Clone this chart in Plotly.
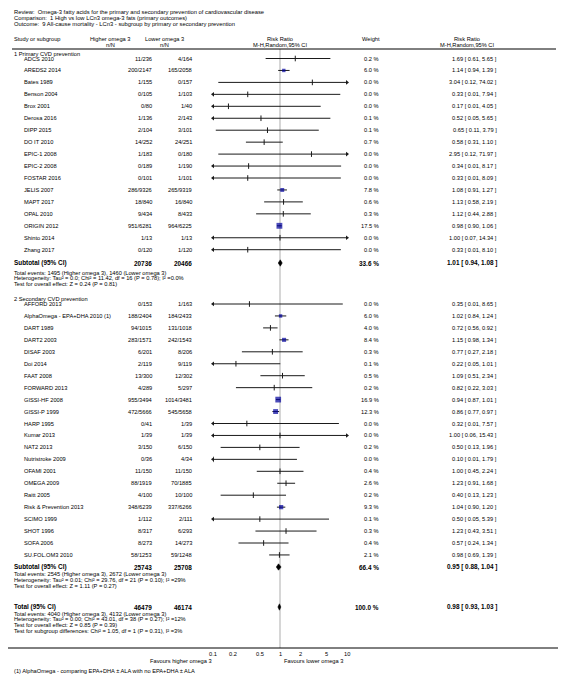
import math
import plotly.graph_objects as go

W, H = 566, 679
OFF = 8  # the page body margin shifts the figure by 8 px; positions below are page pixels
FONT = "Liberation Sans, Arial, sans-serif"

# ---------------- data ----------------
header_lines = [
    "Review:  Omega-3 fatty acids for the primary and secondary prevention of cardiovascular disease",
    "Comparison:  1 High vs low LCn3 omega-3 fats (primary outcomes)",
    "Outcome:  9 All-cause mortality - LCn3 - subgroup by primary or secondary prevention",
]

p_names = ["ADCS 2010", "AREDS2 2014", "Bates 1989", "Benson 2004", "Brox 2001", "Derosa 2016",
           "DIPP 2015", "DO IT 2010", "EPIC-1 2008", "EPIC-2 2008", "FOSTAR 2016", "JELIS 2007",
           "MAPT 2017", "OPAL 2010", "ORIGIN 2012", "Shinto 2014", "Zhang 2017"]
p_hi_ev = [11, 200, 1, 0, 0, 1, 2, 14, 1, 0, 0, 286, 18, 9, 951, 1, 0]
p_hi_n = [236, 2147, 155, 105, 80, 136, 104, 252, 183, 189, 101, 9326, 840, 434, 6281, 13, 120]
p_lo_ev = [4, 165, 0, 1, 1, 2, 3, 24, 0, 1, 1, 265, 16, 8, 964, 1, 1]
p_lo_n = [164, 2058, 157, 103, 40, 143, 101, 251, 180, 190, 101, 9319, 840, 433, 6225, 13, 120]
p_weight = [0.2, 6.0, 0.0, 0.0, 0.0, 0.1, 0.1, 0.7, 0.0, 0.0, 0.0, 7.8, 0.6, 0.3, 17.5, 0.0, 0.0]
p_rr = [1.69, 1.14, 3.04, 0.33, 0.17, 0.52, 0.65, 0.58, 2.95, 0.34, 0.33, 1.08, 1.13, 1.12, 0.98, 1.00, 0.33]
p_lo = [0.61, 0.94, 0.12, 0.01, 0.01, 0.05, 0.11, 0.31, 0.12, 0.01, 0.01, 0.91, 0.58, 0.44, 0.90, 0.07, 0.01]
p_hi = [5.65, 1.39, 74.02, 7.94, 4.05, 5.65, 3.79, 1.10, 71.97, 8.17, 8.09, 1.27, 2.19, 2.88, 1.06, 14.34, 8.10]
p_sub = dict(n_hi=20736, n_lo=20466, weight=33.6, rr=1.01, lo=0.94, hi=1.08)
p_notes = ["Total events: 1495 (Higher omega 3), 1460 (Lower omega 3)",
           "Heterogeneity: Tau² = 0.0; Chi² = 11.42, df = 16 (P = 0.78); I² =0.0%",
           "Test for overall effect: Z = 0.24 (P = 0.81)"]

s_names = ["AFFORD 2013", "AlphaOmega - EPA+DHA 2010 (1)", "DART 1989", "DART2 2003", "DISAF 2003",
           "Doi 2014", "FAAT 2008", "FORWARD 2013", "GISSI-HF 2008", "GISSI-P 1999", "HARP 1995",
           "Kumar 2013", "NAT2 2013", "Nutristroke 2009", "OFAMI 2001", "OMEGA 2009", "Raitt 2005",
           "Risk & Prevention 2013", "SCIMO 1999", "SHOT 1996", "SOFA 2006", "SU.FOL.OM3 2010"]
s_hi_ev = [0, 188, 94, 283, 6, 2, 13, 4, 955, 472, 0, 1, 3, 0, 11, 88, 4, 348, 1, 8, 8, 58]
s_hi_n = [153, 2404, 1015, 1571, 201, 119, 300, 289, 3494, 5666, 41, 39, 150, 36, 150, 1919, 100, 6239, 112, 317, 273, 1253]
s_lo_ev = [1, 184, 131, 242, 8, 9, 12, 5, 1014, 545, 1, 1, 6, 4, 11, 70, 10, 337, 2, 6, 14, 59]
s_lo_n = [163, 2433, 1018, 1543, 206, 119, 302, 297, 3481, 5658, 39, 39, 150, 34, 150, 1885, 100, 6266, 111, 293, 273, 1248]
s_weight = [0.0, 6.0, 4.0, 8.4, 0.3, 0.1, 0.5, 0.2, 16.9, 12.3, 0.0, 0.0, 0.2, 0.0, 0.4, 2.6, 0.2, 9.3, 0.1, 0.3, 0.4, 2.1]
s_rr = [0.35, 1.02, 0.72, 1.15, 0.77, 0.22, 1.09, 0.82, 0.94, 0.86, 0.32, 1.00, 0.50, 0.10, 1.00, 1.23, 0.40, 1.04, 0.50, 1.23, 0.57, 0.98]
s_lo = [0.01, 0.84, 0.56, 0.98, 0.27, 0.05, 0.51, 0.22, 0.87, 0.77, 0.01, 0.06, 0.13, 0.01, 0.45, 0.91, 0.13, 0.90, 0.05, 0.43, 0.24, 0.69]
s_hi = [8.65, 1.24, 0.92, 1.34, 2.18, 1.01, 2.34, 3.03, 1.01, 0.97, 7.57, 15.43, 1.96, 1.79, 2.24, 1.68, 1.23, 1.20, 5.39, 3.51, 1.34, 1.39]
s_sub = dict(n_hi=25743, n_lo=25708, weight=66.4, rr=0.95, lo=0.88, hi=1.04)
s_notes = ["Total events: 2545 (Higher omega 3), 2672 (Lower omega 3)",
           "Heterogeneity: Tau² = 0.01; Chi² = 29.76, df = 21 (P = 0.10); I² =29%",
           "Test for overall effect: Z = 1.11 (P = 0.27)"]

total = dict(n_hi=46479, n_lo=46174, weight=100.0, rr=0.98, lo=0.93, hi=1.03)
t_notes = ["Total events: 4040 (Higher omega 3), 4132 (Lower omega 3)",
           "Heterogeneity: Tau² = 0.00; Chi² = 43.01, df = 38 (P = 0.27); I² =12%",
           "Test for overall effect: Z = 0.85 (P = 0.39)",
           "Test for subgroup differences: Chi² = 1.05, df = 1 (P = 0.31), I² =3%"]

tick_vals = [0.1, 0.2, 0.5, 1, 2, 5, 10]
tick_text = ["0.1", "0.2", "0.5", "1", "2", "5", "10"]
footnote = "(1) AlphaOmega - comparing EPA+DHA ± ALA with no EPA+DHA ± ALA"

# ---------------- layout constants (page pixels) ----------------
XMIN, XMAX = 0.1, 10
PLOT_L, PLOT_R = 213, 347
PITCH = 11.95
X_NAME, X_SUB = 23, 13
X_HI, X_LO, X_W, X_RR = 153, 193, 380, 498
SZ, SZB = 5.7, 6.4
SQ_BLUE = "#00009c"
LINE_C = "#1a1a1a"

fig = go.Figure()


def px(x):
    return (x - OFF) / W


def txt(x, y, s, anchor="left", size=SZ, bold=False, xref="paper"):
    """x in page pixels (paper) or a data value on the log x axis (xref='x')."""
    if bold:
        s = f"<b>{s}</b>"
    xv = px(x) if xref == "paper" else math.log10(x)
    fig.add_annotation(x=xv, y=y, xref=xref, yref="y",
                       text=s, showarrow=False, xanchor=anchor, yanchor="middle",
                       font=dict(size=size, family=FONT, color="black"), borderpad=0)


def fmt_rr(r, lo, hi):
    return f"{r:.2f} [ {lo:.2f}, {hi:.2f} ]"


# header
for i, s in enumerate(header_lines):
    txt(13, 12 + 5.8 * i, s, size=5.8)
txt(13, 39, "Study or subgroup")
txt(110, 39, "Higher omega 3", anchor="center")
txt(110, 45, "n/N", anchor="center")
txt(165, 39, "Lower omega 3", anchor="center")
txt(165, 45, "n/N", anchor="center")
txt(280, 39, "Risk Ratio", anchor="center")
txt(280, 45, "M-H,Random,95% CI", anchor="center")
txt(371, 39, "Weight", anchor="center")
txt(467, 39, "Risk Ratio", anchor="center")
txt(467, 45, "M-H,Random,95% CI", anchor="center")
fig.add_shape(type="line", xref="paper", yref="y", x0=px(12), x1=px(556), y0=49, y1=49,
              line=dict(color="black", width=1))

ci_x, ci_y = [], []
tick_x, tick_y = [], []
sq_x, sq_y, sq_s = [], [], []
arl_x, arl_y, arr_x, arr_y = [], [], [], []
dia_traces = []


def summary(y, label, d):
    txt(X_SUB, y, label, size=SZB, bold=True)
    txt(X_HI, y, f"{d['n_hi']}", anchor="right", size=SZB, bold=True)
    txt(X_LO, y, f"{d['n_lo']}", anchor="right", size=SZB, bold=True)
    txt(X_W, y, f"{d['weight']:.1f} %", anchor="right", size=SZB, bold=True)
    txt(X_RR, y, fmt_rr(d['rr'], d['lo'], d['hi']), anchor="right", size=SZB, bold=True)
    h = 3.2
    dia_traces.append(go.Scatter(x=[d['lo'], d['rr'], d['hi'], d['rr'], d['lo']],
                                 y=[y, y - h, y, y + h, y], mode="lines", fill="toself",
                                 fillcolor="black", line=dict(color="black", width=0.5),
                                 hoverinfo="skip", showlegend=False))


def study_block(title, y_title, y0, names, hev, hn, lev, ln, wts, rr, lo, hi, sub, y_sub, y_notes, notes):
    txt(X_SUB, y_title, title)
    for i, nm in enumerate(names):
        y = y0 + PITCH * i
        txt(X_NAME, y, nm)
        txt(X_HI, y, f"{hev[i]}/{hn[i]}", anchor="right")
        txt(X_LO, y, f"{lev[i]}/{ln[i]}", anchor="right")
        txt(X_W, y, f"{wts[i]:.1f} %", anchor="right")
        txt(X_RR, y, fmt_rr(rr[i], lo[i], hi[i]), anchor="right")
        ci_x.extend([lo[i], hi[i], None])
        ci_y.extend([y, y, None])
        if lo[i] < XMIN:
            arl_x.append(XMIN); arl_y.append(y)
        if hi[i] > XMAX:
            arr_x.append(XMAX); arr_y.append(y)
        if wts[i] >= 5:
            sq_x.append(rr[i]); sq_y.append(y); sq_s.append(1.4 * math.sqrt(wts[i]))
        else:
            tick_x.append(rr[i]); tick_y.append(y)
    summary(y_sub, "Subtotal (95% CI)", sub)
    for j, s in enumerate(notes):
        txt(X_SUB, y_notes + 5.8 * j, s)


study_block("1 Primary CVD prevention", 53.5, 58.5, p_names, p_hi_ev, p_hi_n, p_lo_ev, p_lo_n,
            p_weight, p_rr, p_lo, p_hi, p_sub, 263, 272.5, p_notes)
study_block("2 Secondary CVD prevention", 298.5, 304, s_names, s_hi_ev, s_hi_n, s_lo_ev, s_lo_n,
            s_weight, s_rr, s_lo, s_hi, s_sub, 567, 574, s_notes)
summary(607, "Total (95% CI)", total)
for j, s in enumerate(t_notes):
    txt(X_SUB, 613.5 + 5.8 * j, s)

# reference line at 1 and bottom axis line
fig.add_shape(type="line", xref="x", yref="y", x0=1, x1=1, y0=49, y1=648,
              line=dict(color="#c8c8c8", width=1.5), layer="below")
fig.add_shape(type="line", xref="paper", yref="y", x0=0, x1=1, y0=648, y1=648,
              line=dict(color="black", width=1))
for v, t in zip(tick_vals, tick_text):
    txt(v, 654, t, anchor="center", xref="x")
txt(XMIN, 661, "Favours higher omega 3", anchor="right", xref="x")
txt(283, 661, "Favours lower omega 3", anchor="left")
txt(X_SUB, 670.5, footnote)

# traces
fig.add_trace(go.Scatter(x=ci_x, y=ci_y, mode="lines", line=dict(color=LINE_C, width=1),
                         hoverinfo="skip", showlegend=False))
fig.add_trace(go.Scatter(x=tick_x, y=tick_y, mode="markers",
                         marker=dict(symbol="line-ns", size=4, line=dict(color=LINE_C, width=1)),
                         hoverinfo="skip", showlegend=False))
fig.add_trace(go.Scatter(x=sq_x, y=sq_y, mode="markers",
                         marker=dict(symbol="square", size=sq_s, color=SQ_BLUE, line=dict(width=0)),
                         hoverinfo="skip", showlegend=False))
fig.add_trace(go.Scatter(x=arl_x, y=arl_y, mode="markers", cliponaxis=False,
                         marker=dict(symbol="triangle-left", size=4, color=LINE_C),
                         hoverinfo="skip", showlegend=False))
fig.add_trace(go.Scatter(x=arr_x, y=arr_y, mode="markers", cliponaxis=False,
                         marker=dict(symbol="triangle-right", size=4, color=LINE_C),
                         hoverinfo="skip", showlegend=False))
for t in dia_traces:
    fig.add_trace(t)

fig.update_layout(
    width=W, height=H, margin=dict(l=0, r=0, t=0, b=0),
    paper_bgcolor="white", plot_bgcolor="rgba(0,0,0,0)",
    showlegend=False,
    xaxis=dict(type="log", range=[math.log10(XMIN), math.log10(XMAX)],
               domain=[px(PLOT_L), px(PLOT_R)], visible=False, fixedrange=True),
    yaxis=dict(range=[H + OFF, OFF], domain=[0, 1], visible=False, fixedrange=True),
)

fig.write_html("out.html")
